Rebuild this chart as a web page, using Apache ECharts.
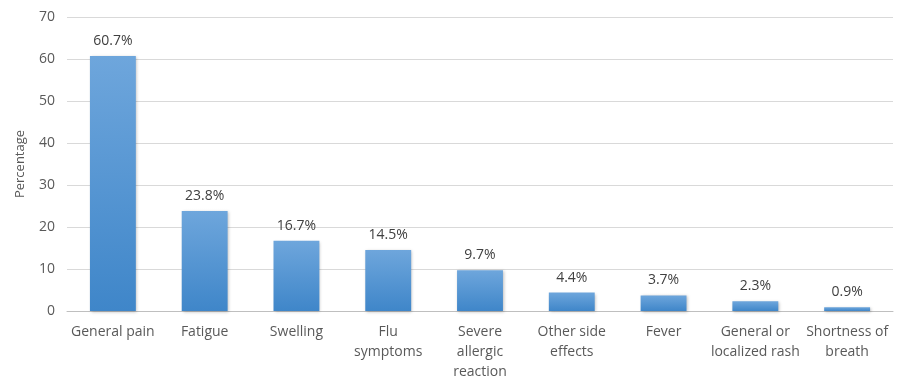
<!DOCTYPE html>
<html>
<head>
<meta charset="utf-8">
<script src="https://cdn.jsdelivr.net/npm/echarts@6/dist/echarts.min.js"></script>
<style>
  html, body { margin: 0; padding: 0; background: #fff; }
  #chart { width: 900px; height: 383px; }
</style>
</head>
<body>
<div id="chart"></div>
<script>
// Reported side effects, share of respondents (%)
const categories = [
  'General pain',
  'Fatigue',
  'Swelling',
  'Flu\nsymptoms',
  'Severe\nallergic\nreaction',
  'Other side\neffects',
  'Fever',
  'General or\nlocalized rash',
  'Shortness of\nbreath'
];
const percentages = [60.7, 23.8, 16.7, 14.5, 9.7, 4.4, 3.7, 2.3, 0.9];
const yTicks = { min: 0, max: 70, step: 10 };
const yAxisTitle = 'Percentage';

const FONT = '"Open Sans", "Liberation Sans", sans-serif';

const chart = echarts.init(document.getElementById('chart'), null, { renderer: 'canvas' });
chart.setOption({
  animation: false,
  backgroundColor: '#ffffff',
  grid: { left: 67, right: 7, top: 17, bottom: 72, containLabel: false },
  xAxis: {
    type: 'category',
    data: categories,
    axisLine: { lineStyle: { color: '#bfbfbf', width: 1 } },
    axisTick: { show: false },
    axisLabel: {
      interval: 0,
      color: '#595959',
      fontFamily: FONT,
      fontSize: 14,
      lineHeight: 20,
      margin: 11
    }
  },
  yAxis: {
    type: 'value',
    min: yTicks.min,
    max: yTicks.max,
    interval: yTicks.step,
    name: yAxisTitle,
    nameLocation: 'middle',
    nameRotate: 90,
    nameGap: 40,
    nameTextStyle: { color: '#595959', fontFamily: FONT, fontSize: 13 },
    axisLine: { show: false },
    axisTick: { show: false },
    axisLabel: { color: '#595959', fontFamily: FONT, fontSize: 14, margin: 12 },
    splitLine: { lineStyle: { color: '#d9d9d9', width: 1 } }
  },
  series: [{
    type: 'bar',
    data: percentages,
    barWidth: '50%',
    itemStyle: {
      color: new echarts.graphic.LinearGradient(0, 0, 0, 1, [
        { offset: 0, color: '#6ea6dc' },
        { offset: 1, color: '#3f86c9' }
      ]),
      shadowColor: 'rgba(0,0,0,0.25)',
      shadowBlur: 3,
      shadowOffsetX: 1,
      shadowOffsetY: 1
    },
    label: {
      show: true,
      position: 'top',
      distance: 8,
      color: '#404040',
      fontFamily: FONT,
      fontSize: 14,
      formatter: p => p.value.toFixed(1) + '%'
    }
  }]
});
</script>
</body>
</html>
